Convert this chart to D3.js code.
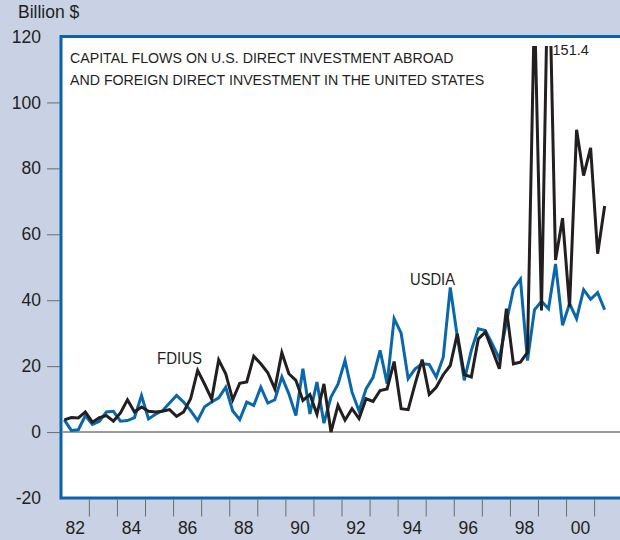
<!DOCTYPE html>
<meta charset="utf-8">
<style>
body {
    margin: 0;
    background: #c9d1e4;
}

svg {
    display: block;
    font-family: "Liberation Sans", Arial, sans-serif;
}

.axis text {
    font-size: 17.5px;
    fill: #231f20;
}

.axis line {
    stroke: #6d6d6d;
    stroke-width: 1px;
}

.axis path {
    display: none;
}

.frame {
    fill: #fff;
    stroke: #0b64a8;
    stroke-width: 3px;
}

.zero-line {
    stroke: #7a7a7a;
    stroke-width: 1.5px;
}

.series {
    fill: none;
    stroke-width: 3px;
    stroke-linejoin: miter;
}

.note {
    fill: #231f20;
}
</style>

<body>
    <div id="chart"></div>
    <script src="https://d3js.org/d3.v7.min.js"></script>
    <script>
    // quarterly flows, billion $, 1982Q1 .. 2001Q2
    var startYear = 1982;

    var fdius = [3.7, 4.4, 4.3, 6.1, 3.0, 4.4, 5.0, 3.3, 5.8, 9.8,
        6.1, 7.6, 6.3, 6.1, 6.3, 6.8, 4.8, 6.1, 10.1, 18.7,
        14.5, 10.0, 21.9, 17.7, 9.8, 14.8, 15.2, 23.0, 20.7, 18.0,
        13.1, 24.1, 17.7, 15.7, 9.6, 11.4, 5.4, 14.6, 0.0, 8.1,
        3.6, 7.1, 4.1, 10.1, 9.3, 12.6, 13.1, 21.4, 7.1, 6.8,
        14.7, 22.0, 11.4, 13.6, 17.4, 20.2, 29.8, 17.4, 16.7, 28.3,
        30.3, 24.8, 19.2, 37.4, 20.7, 21.2, 24.2, 130.0, 36.9, 151.4,
        52.2, 64.9, 38.0, 91.7, 77.8, 86.2, 54.1, 68.6];

    var usdia = [3.7, 0.5, 0.7, 5.0, 2.3, 3.3, 6.1, 6.3, 3.3, 3.5,
        4.4, 11.1, 4.0, 5.4, 6.5, 8.8, 11.1, 9.1, 6.5, 3.5,
        7.7, 9.1, 10.4, 13.6, 6.4, 3.8, 9.1, 8.1, 13.6, 8.8,
        9.8, 16.7, 11.6, 5.0, 19.2, 5.5, 15.2, 2.7, 10.6, 14.5,
        21.7, 12.1, 6.4, 13.1, 16.6, 24.8, 14.7, 34.4, 30.0, 16.2,
        19.2, 20.7, 20.5, 16.7, 22.7, 43.9, 29.0, 15.7, 24.8, 31.3,
        30.8, 26.7, 22.2, 33.3, 43.4, 46.4, 21.7, 37.1, 39.7, 37.4,
        51.0, 32.4, 39.0, 34.4, 43.2, 40.3, 42.3, 37.1];

    var yLabels = [-20, 0, 20, 40, 60, 80, 100, 120];
    var yMarks = [0, 20, 40, 60, 80, 100];
    var yearTicks = [1983, 1984, 1985, 1986, 1987, 1988, 1989, 1990, 1991, 1992,
        1993, 1994, 1995, 1996, 1997, 1998, 1999, 2000, 2001];
    var labelYears = [1982, 1984, 1986, 1988, 1990, 1992, 1994, 1996, 1998, 2000];
    var yearLabels = ["82", "84", "86", "88", "90", "92", "94", "96", "98", "00"];

    var titleLines = ["CAPITAL FLOWS ON U.S. DIRECT INVESTMENT ABROAD",
        "AND FOREIGN DIRECT INVESTMENT IN THE UNITED STATES"];

    var chartW = 620,
        chartH = 540,
        plotLeft = 61,
        plotTop = 36.5,
        plotBottom = 498;

    var svg = d3.select("#chart").append("svg")
        .attr("width", chartW)
        .attr("height", chartH);

    var x = d3.scaleLinear().domain([1982, 2002]).range([60.8, 60.8 + 20 * 28.07]);
    var y = d3.scaleLinear().domain([-20, 120]).range([plotBottom, plotTop]);

    function quarterTime(i) { return startYear + i / 4 + 0.125; }

    svg.append("rect")
        .attr("class", "frame")
        .attr("x", plotLeft)
        .attr("y", plotTop)
        .attr("width", 600)
        .attr("height", plotBottom - plotTop);

    svg.append("clipPath")
        .attr("id", "plot-clip")
        .append("rect")
        .attr("x", plotLeft + 1.5)
        .attr("y", 46)
        .attr("width", chartW)
        .attr("height", plotBottom - 46 - 1.5);

    // y axis: labels (plain hyphen for negatives) and short tick marks
    svg.append("g")
        .attr("class", "axis")
        .attr("transform", "translate(" + plotLeft + ",0)")
        .call(d3.axisLeft(y).tickValues(yLabels).tickSize(0).tickPadding(20)
            .tickFormat(function(d) { return String(d); }))
        .selectAll("line").remove();

    svg.append("g")
        .attr("class", "axis")
        .attr("transform", "translate(" + (plotLeft - 1) + ",0)")
        .call(d3.axisLeft(y).tickValues(yMarks).tickSize(13).tickFormat(""));

    // x axis: year ticks and labels in the middle of the years
    svg.append("g")
        .attr("class", "axis")
        .attr("transform", "translate(0," + (plotBottom + 1.5) + ")")
        .call(d3.axisBottom(x).tickValues(yearTicks).tickSize(17).tickFormat(""));

    svg.append("g")
        .attr("class", "axis")
        .attr("transform", "translate(0," + plotBottom + ")")
        .call(d3.axisBottom(x)
            .tickValues(labelYears.map(function(d) { return d + 0.5; }))
            .tickSize(0)
            .tickPadding(24)
            .tickFormat(function(d, i) { return yearLabels[i]; }))
        .selectAll("line").remove();

    var plot = svg.append("g").attr("clip-path", "url(#plot-clip)");

    plot.append("line")
        .attr("class", "zero-line")
        .attr("x1", plotLeft)
        .attr("x2", chartW)
        .attr("y1", y(0))
        .attr("y2", y(0));

    var line = d3.line()
        .x(function(d, i) { return x(quarterTime(i)); })
        .y(function(d) { return y(d); });

    plot.append("path")
        .datum(usdia)
        .attr("class", "series")
        .attr("stroke", "#0a68aa")
        .attr("d", line);

    plot.append("path")
        .datum(fdius)
        .attr("class", "series")
        .attr("stroke", "#231f20")
        .attr("d", line);

    // texts
    svg.append("text")
        .attr("class", "note")
        .attr("x", 18)
        .attr("y", 18)
        .style("font-size", "17.5px")
        .text("Billion $");

    svg.selectAll(".title")
        .data(titleLines)
        .enter().append("text")
        .attr("class", "title note")
        .attr("x", 70)
        .attr("y", function(d, i) { return 63 + i * 22; })
        .style("font-size", "14.2px")
        .text(function(d) { return d; });

    svg.append("text")
        .attr("class", "note")
        .attr("x", 410)
        .attr("y", 285)
        .attr("textLength", 45)
        .attr("lengthAdjust", "spacingAndGlyphs")
        .style("font-size", "16.5px")
        .text("USDIA");

    svg.append("text")
        .attr("class", "note")
        .attr("x", 157)
        .attr("y", 364)
        .attr("textLength", 45)
        .attr("lengthAdjust", "spacingAndGlyphs")
        .style("font-size", "16.5px")
        .text("FDIUS");

    svg.append("text")
        .attr("class", "note")
        .attr("x", x(quarterTime(69)) + 4)
        .attr("y", 55)
        .style("font-size", "14.5px")
        .text(d3.format(".1f")(fdius[69]));
    </script>
</body>
